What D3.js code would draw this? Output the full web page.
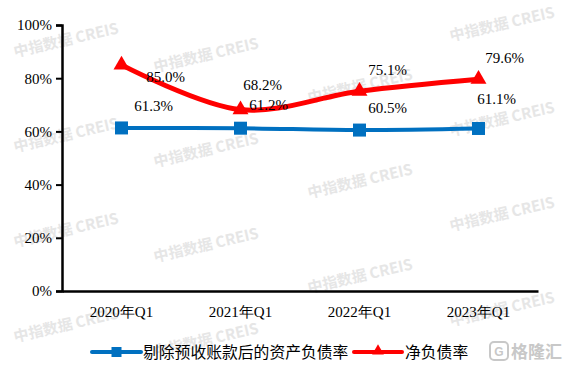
<!DOCTYPE html>
<html><head><meta charset="utf-8">
<script src="https://cdn.jsdelivr.net/npm/d3@7/dist/d3.min.js"></script>
<style>body{margin:0;background:#fff}</style>
</head><body><svg id="c" width="565" height="373"></svg>
<script>
const categories = ["2020年Q1","2021年Q1","2022年Q1","2023年Q1"];
const seriesNames = ["剔除预收账款后的资产负债率","净负债率"];
const adjustedDebtRatio = [61.3, 61.2, 60.5, 61.1];
const netDebtRatio = [85.0, 68.2, 75.1, 79.6];
const yTicks = [0,20,40,60,80,100];

const svg = d3.select("#c");
const m = {l:62, r:27, t:25, b:82};
const W = 565, H = 373;
const x = d3.scaleBand().domain(categories).range([m.l, W - m.r]);
const y = d3.scaleLinear().domain([0,100]).range([H - m.b, m.t]);
const cx = d => x(d) + x.bandwidth()/2;

// watermark
const wm = svg.append("g");
const wmCols = [[66,40],[206,55],[360,86],[502,24]];
wmCols.forEach(([wx,wy0])=>{
  for(let k=0;k<4;k++){
    const wy = wy0 + k*95;
    if (wy > 356) continue;
    wm.append("text").attr("transform",`translate(${wx},${wy}) rotate(-13)`)
      .attr("text-anchor","middle").attr("dy","0.35em")
      .style("font-family","'Noto Sans CJK SC','Noto Sans',sans-serif").style("font-weight","bold")
      .style("font-size","15px").style("fill","#e6e6e6").text("中指数据 CREIS");
  }
});

const serif = "'Liberation Serif','Times New Roman',serif";

// y axis
const ya = svg.append("g").attr("transform",`translate(${m.l},0)`)
  .call(d3.axisLeft(y).tickValues(yTicks).tickFormat(d=>d+"%").tickSize(6).tickPadding(4));
ya.select(".domain").attr("stroke","#000").attr("stroke-width",2.5);
ya.selectAll(".tick line").attr("stroke","#000").attr("stroke-width",2);
ya.selectAll(".tick text").style("font-family",serif).style("font-size","15px").attr("fill","#000");

// x axis
const xa = svg.append("g").attr("transform",`translate(0,${y(0)})`)
  .call(d3.axisBottom(x).tickSize(0).tickPadding(15));
xa.select(".domain").attr("stroke","#000").attr("stroke-width",2.5);
xa.selectAll(".tick text").style("font-family",serif).style("font-size","15px").attr("fill","#000");

const line = d3.line().x((d,i)=>cx(categories[i])).y(d=>y(d)).curve(d3.curveCatmullRom.alpha(0.5));

const blue = "#0070C0", red = "#FF0000";
svg.append("path").datum(adjustedDebtRatio).attr("d",line).attr("fill","none").attr("stroke",blue).attr("stroke-width",4);
svg.append("path").datum(netDebtRatio).attr("d",line).attr("fill","none").attr("stroke",red).attr("stroke-width",5);

svg.selectAll(".sq").data(adjustedDebtRatio).join("rect")
  .attr("x",(d,i)=>cx(categories[i])-6.5).attr("y",d=>y(d)-6.5).attr("width",13).attr("height",13).attr("fill",blue);
const tri = d3.symbol().type(d3.symbolTriangle).size(110);
svg.selectAll(".tr").data(netDebtRatio).join("path")
  .attr("transform",(d,i)=>`translate(${cx(categories[i])},${y(d)})`).attr("d",tri).attr("fill",red);

// labels
const blueOff = [[32,-17],[28,-18],[28,-17],[18,-24]];
const redOff = [[44,17],[22,-20],[28,-16],[26,-16]];
svg.selectAll(".bl").data(adjustedDebtRatio).join("text")
  .attr("x",(d,i)=>cx(categories[i])+blueOff[i][0]).attr("y",(d,i)=>y(d)+blueOff[i][1])
  .attr("text-anchor","middle").style("font-family",serif).style("font-size","15px").text(d=>d.toFixed(1)+"%");
svg.selectAll(".rl").data(netDebtRatio).join("text")
  .attr("x",(d,i)=>cx(categories[i])+redOff[i][0]).attr("y",(d,i)=>y(d)+redOff[i][1])
  .attr("text-anchor","middle").style("font-family",serif).style("font-size","15px").text(d=>d.toFixed(1)+"%");

// legend
const cjk = "'Noto Sans CJK SC','Noto Sans',sans-serif";
const ly = 352;
const lg = svg.append("g");
lg.append("line").attr("x1",92).attr("x2",141).attr("y1",ly).attr("y2",ly).attr("stroke",blue).attr("stroke-width",4).attr("stroke-linecap","round");
lg.append("rect").attr("x",116.5-5).attr("y",ly-5).attr("width",10).attr("height",10).attr("fill",blue);
lg.append("text").attr("x",143).attr("y",ly).attr("dy","0.35em").style("font-family",cjk).style("font-size","15.8px").text(seriesNames[0]);
lg.append("line").attr("x1",354).attr("x2",402).attr("y1",ly).attr("y2",ly).attr("stroke",red).attr("stroke-width",4).attr("stroke-linecap","round");
lg.append("path").attr("transform",`translate(378,${ly-1})`).attr("d",d3.symbol().type(d3.symbolTriangle).size(60)).attr("fill",red);
lg.append("text").attr("x",405).attr("y",ly).attr("dy","0.35em").style("font-family",cjk).style("font-size","15.8px").text(seriesNames[1]);

// logo
const lo = svg.append("g").attr("transform","translate(490,342)");
lo.append("rect").attr("x",0).attr("y",0).attr("width",18).attr("height",18).attr("rx",4).attr("fill","none").attr("stroke","#c8c8c8").attr("stroke-width",2);
lo.append("text").attr("x",9).attr("y",14).attr("text-anchor","middle").style("font-family","sans-serif").style("font-weight","bold").style("font-size","12px").style("fill","#c8c8c8").text("G");
lo.append("text").attr("x",21).attr("y",16).style("font-family",cjk).style("font-weight","bold").style("font-size","17px").style("fill","#c8c8c8").text("格隆汇");
</script></body></html>
